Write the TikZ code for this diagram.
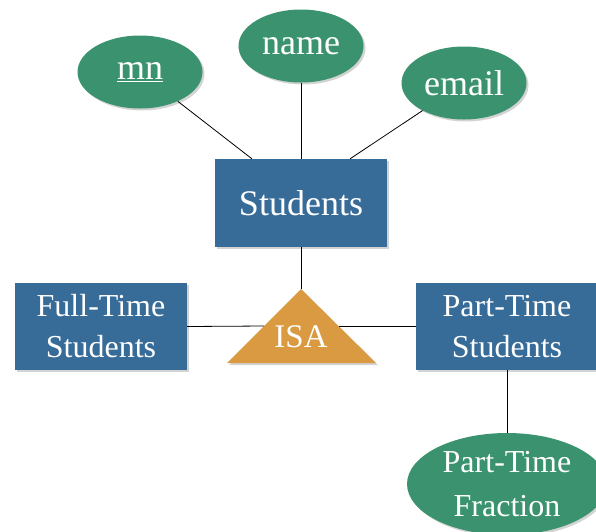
\documentclass[tikz,border=0pt]{standalone}
\usepackage{fontspec}
\setmainfont{Liberation Serif}
\usetikzlibrary{shapes.geometric,shadows}
\definecolor{entblue}{RGB}{55,107,152}
\definecolor{attgreen}{RGB}{58,147,110}
\definecolor{isaorange}{RGB}{217,154,66}

\begin{document}
\begin{tikzpicture}[x=1pt, y=-1pt,
	softshadow/.style={drop shadow={opacity=0.35, shadow xshift=2pt, shadow yshift=-2pt}},
	entity/.style={fill=entblue, text=white, inner sep=0pt, align=center, minimum width=172pt, minimum height=87pt, softshadow, font=\fontsize{32}{41}\selectfont},
	attr/.style={ellipse, fill=attgreen, text=white, inner sep=0pt, minimum width=125pt, minimum height=73pt, softshadow, font=\fontsize{36}{40}\selectfont},
	link/.style={black, line width=0.8pt}]
	\useasboundingbox (0,0) rectangle (596,531);
	\clip (0,0) rectangle (596,531);
	% attributes of Students
	\node[attr] (mn) at (140,72) {\underline{mn}};
	\node[attr] (name) at (301,46) {name};
	\node[attr] (email) at (464,83) {email};
	% entities
	\node[entity, font=\fontsize{36}{40}\selectfont, minimum height=88pt] (stud) at (301,203) {Students};
	\node[entity] (full) at (101,326.5) {Full-Time\\Students};
	\node[entity, minimum width=182pt] (part) at (507,326.5) {Part-Time\\Students};
	\node[attr, minimum width=200pt, minimum height=102pt, align=center, font=\fontsize{32}{44}\selectfont] (frac) at (507,484) {Part-Time\\Fraction};
	% ISA triangle
	\coordinate (isatop) at (301,289);
	\coordinate (isaleft) at (227,363);
	\coordinate (isaright) at (376,363);
	\coordinate (isaw) at (264,326);
	\coordinate (isae) at (338.5,326);
	\fill[isaorange, softshadow] (isatop) -- (isaright) -- (isaleft) -- cycle;
	\node[text=white, font=\fontsize{33}{36}\selectfont] (isa) at (301,337) {ISA};
	% connectors
	\draw[link] (mn) -- (stud.138);
	\draw[link] (name) -- (stud);
	\draw[link] (email) -- (stud.42);
	\draw[link] (stud) -- (isatop);
	\draw[link] (full.east) -- (isaw);
	\draw[link] (part.west |- isae) -- (isae);
	\draw[link] (frac.north) -- (frac.north |- part.south);
\end{tikzpicture}
\end{document}
